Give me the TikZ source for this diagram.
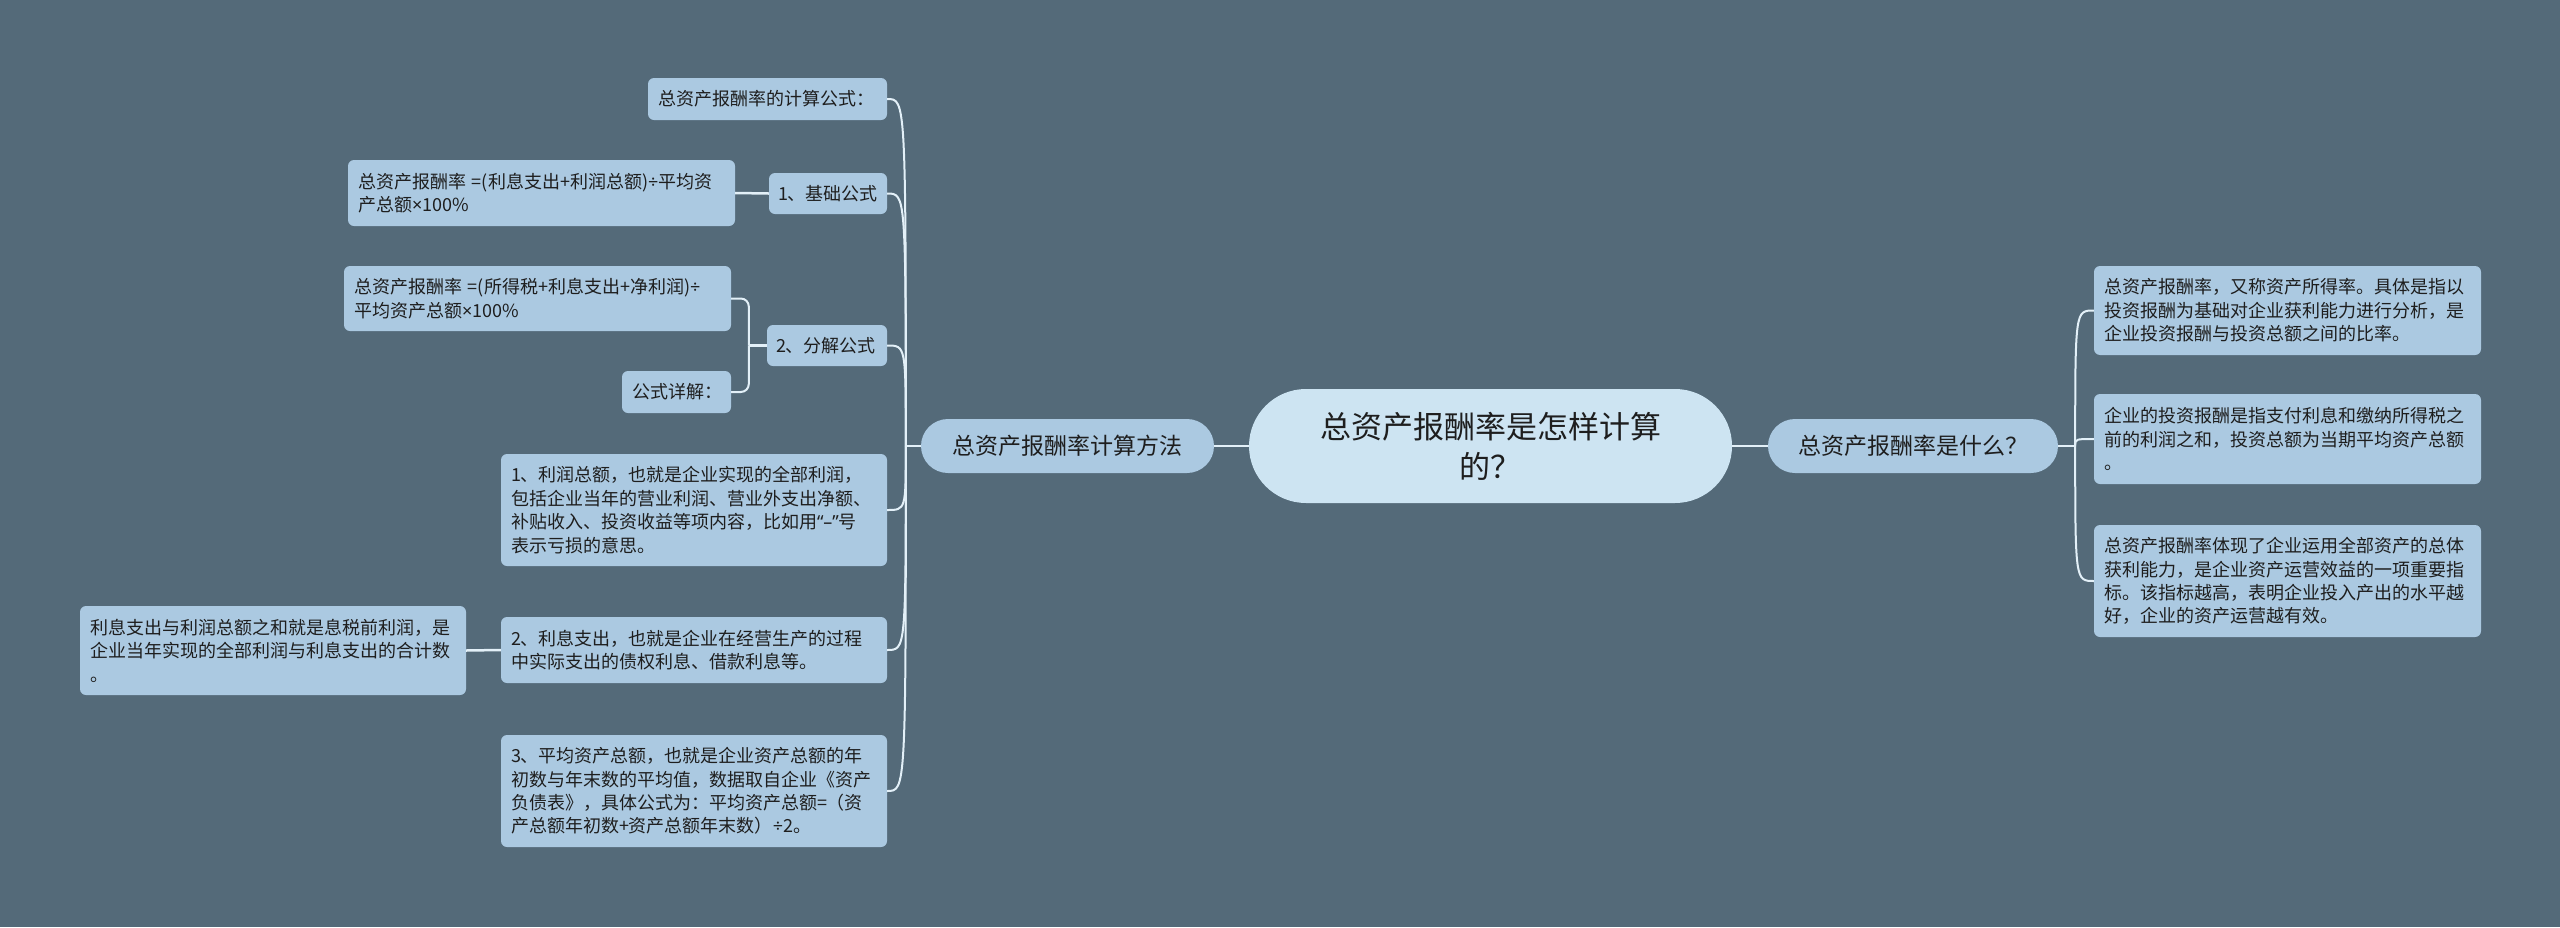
\documentclass[tikz,border=0pt]{standalone}
\usepackage{fontspec}
\setmainfont{Noto Sans CJK SC}
\newfontfamily\latinf{Noto Sans}
\newcommand\xtimes{{\latinf ×}}
\newcommand\xdiv{{\latinf ÷}}
\definecolor{bgc}{HTML}{546A79}
\definecolor{leaffill}{HTML}{ABC9E1}
\definecolor{rootfill}{HTML}{CDE4F2}
\definecolor{linec}{HTML}{E3F0F8}
\definecolor{txt}{HTML}{1E1E1E}
\tikzset{
  leaf/.style={fill=leaffill, rounded corners=6, inner xsep=10, inner ysep=0, align=left, text=txt,
    font=\fontsize{18}{23.4}\selectfont},
  branch/.style={fill=leaffill, rounded corners=27, inner sep=0, align=center, text=txt,
    font=\fontsize{23}{28}\selectfont},
  rootbox/.style={fill=rootfill, rounded corners=57, inner sep=0, align=center, text=txt,
    font=\fontsize{31}{40}\selectfont},
  conn/.style={draw=linec, line width=2.5},
  thin/.style={draw=linec, line width=2}
}
\begin{document}
\begin{tikzpicture}[x=1pt,y=-1pt]
\fill[bgc] (0,0) rectangle (2560,927);
\useasboundingbox (0,0) rectangle (2560,927);

% root and branches
\node[rootbox, minimum width=483, minimum height=114] (root) at (1490.5,446) {总资产报酬率是怎样计算\\的？};
\node[branch, minimum width=293, minimum height=54] (L) at (1067.5,446) {总资产报酬率计算方法};
\node[branch, minimum width=290, minimum height=54] (R) at (1913,446) {总资产报酬率是什么？};

% right leaves
\node[leaf, text width=367, minimum height=89] (r1) at (2287.5,310.5) {总资产报酬率，又称资产所得率。具体是指以\\投资报酬为基础对企业获利能力进行分析，是\\企业投资报酬与投资总额之间的比率。};
\node[leaf, text width=367, minimum height=90] (r2) at (2287.5,439) {企业的投资报酬是指支付利息和缴纳所得税之\\前的利润之和，投资总额为当期平均资产总额\\。};
\node[leaf, text width=367, minimum height=112] (r3) at (2287.5,581) {总资产报酬率体现了企业运用全部资产的总体\\获利能力，是企业资产运营效益的一项重要指\\标。该指标越高，表明企业投入产出的水平越\\好，企业的资产运营越有效。};

% left children
\node[leaf, text width=219, minimum height=42] (c1) at (767.5,99) {总资产报酬率的计算公式：};
\node[leaf, text width=100, inner xsep=9, minimum height=41] (c2) at (828,193.5) {1、基础公式};
\node[leaf, text width=102, inner xsep=9, minimum height=41] (c3) at (827,345.5) {2、分解公式};
\node[leaf, text width=366, minimum height=112] (c4) at (694,510) {1、利润总额，也就是企业实现的全部利润，\\包括企业当年的营业利润、营业外支出净额、\\\mbox{补贴收入、投资收益等项内容，比如用{\latinf “–”}号}\\表示亏损的意思。};
\node[leaf, text width=366, minimum height=66] (c5) at (694,650) {2、利息支出，也就是企业在经营生产的过程\\中实际支出的债权利息、借款利息等。};
\node[leaf, text width=366, minimum height=112] (c6) at (694,791) {3、平均资产总额，也就是企业资产总额的年\\初数与年末数的平均值，数据取自企业《资产\\负债表》，具体公式为：平均资产总额=（资\\产总额年初数+资产总额年末数）{\xdiv}2。};

% grandchildren
\node[leaf, text width=367, minimum height=66] (f1) at (541.5,193) {总资产报酬率 =(利息支出+利润总额){\xdiv}平均资\\产总额{\xtimes}100\%};
\node[leaf, text width=367, minimum height=65] (f2) at (537.5,298.5) {总资产报酬率 =(所得税+利息支出+净利润){\xdiv}\\平均资产总额{\xtimes}100\%};
\node[leaf, text width=89, minimum height=42] (xq) at (676.5,392) {公式详解：};
\node[leaf, text width=366, minimum height=89] (ll) at (273,650.5) {利息支出与利润总额之和就是息税前利润，是\\企业当年实现的全部利润与利息支出的合计数\\。};

% connectors root
\draw[conn] (root.west) -- (L.east);
\draw[conn] (root.east) -- (R.west);

% left trunk
\coordinate (Lt) at ([xshift=-15]L.west);
\draw[conn] (L.west) -- (Lt);
\foreach \c in {c1,c2,c3,c4,c5,c6}{
  \draw[thin] (Lt) .. controls (Lt |- \c.east) and (Lt |- \c.east) .. (\c.east);
}

% right trunk
\coordinate (Rt) at ([xshift=17]R.east);
\draw[conn] (R.east) -- (Rt);
\foreach \c in {r1,r2,r3}{
  \draw[thin] (Rt) .. controls (Rt |- \c.west) and (Rt |- \c.west) .. (\c.west);
}

% c2 -> f1, c5 -> ll
\draw[conn] (c2.west) -- (f1.east);
\draw[conn] (c5.west) -- (ll.east);

% c3 bracket
\coordinate (Ct) at ([xshift=-18]c3.west);
\draw[conn] (c3.west) -- (Ct);
\draw[thin, rounded corners=8] (Ct) |- (f2.east);
\draw[thin, rounded corners=8] (Ct) |- (xq.east);
\end{tikzpicture}
\end{document}
